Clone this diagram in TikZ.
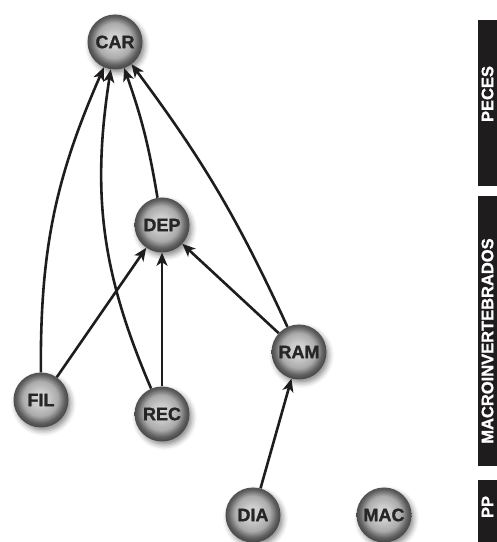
\documentclass[tikz,border=0pt]{standalone}
\usepackage{fontspec}
\setmainfont{Liberation Sans}
\newfontfamily\lblfont[FakeBold=1.2]{Liberation Sans Bold}
\usetikzlibrary{arrows.meta,shadows.blur}
\definecolor{ink}{HTML}{1E1C1D}
\pgfdeclareradialshading{sphere}{\pgfpoint{-1bp}{2bp}}{color(0bp)=(gray!30); color(7bp)=(gray!40); color(16bp)=(gray!66); color(22bp)=(gray!75!black); color(25bp)=(gray!58!black); color(50bp)=(gray!58!black)}
\begin{document}
\begin{tikzpicture}[x=1pt,y=1pt,
  sp/.style={circle, minimum size=55pt, inner sep=0pt, shade, shading=sphere,
    blur shadow={shadow xshift=2.5pt, shadow yshift=-3.5pt, shadow blur radius=5pt, shadow opacity=45},
    font=\lblfont\fontsize{18}{20}\selectfont, text=black!85},
  arr/.style={line width=2.6pt, draw=ink, -{Stealth[length=13pt,width=11pt,inset=3.5pt]}},
  barfill/.style={fill=ink},
  barlbl/.style={rotate=90, text=white, inner sep=0pt, font=\lblfont\fontsize{16.5}{18}\selectfont}]
\useasboundingbox (0,0) rectangle (497,542);
% nodes
\node[sp] (car) at (115,500) {CAR};
\node[sp] (dep) at (162,317) {DEP};
\node[sp] (ram) at (299,190) {RAM};
\node[sp] (fil) at (41,142) {FIL};
\node[sp] (rec) at (162,128) {REC};
\node[sp] (dia) at (253,27) {DIA};
\node[sp] (mac) at (384,27) {MAC};
% edges
\draw[arr] (fil) to[bend left=12] (car);
\draw[arr] (rec) to[bend left=16] (car);
\draw[arr] (dep) to[bend right=5] (car);
\draw[arr] (ram) to[bend right=6] (car);
\draw[arr] (fil) -- (dep);
\draw[arr] (rec) -- (dep);
\draw[arr] (ram) -- (dep);
\draw[arr] (dia) -- (ram);
% side bars
\fill[barfill] (478,522) rectangle (497,356);
\fill[barfill] (478,346) rectangle (497,76);
\fill[barfill] (478,62) rectangle (497,0);
\node[barlbl] (peces) at (487.5,448) {PECES};
\node[barlbl] (macro) at (487.5,201) {MACROINVERTEBRADOS};
\node[barlbl] (pp) at (487.5,35) {PP};
\end{tikzpicture}
\end{document}
